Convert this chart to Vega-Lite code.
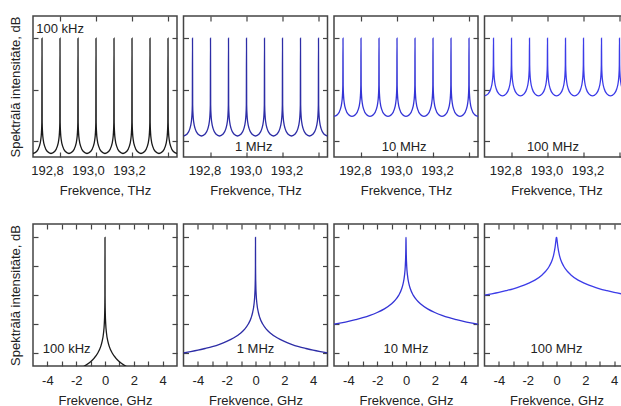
{
"$schema":"https://vega.github.io/schema/vega-lite/v6.json",
"background":"white",
"padding":{"left":8,"top":14,"right":0,"bottom":0},
"bounds":"flush",
"spacing":208,
"config":{
 "view":{"stroke":"#444","strokeWidth":1.5},
 "axis":{"domain":false,"grid":false,"tickColor":"#444","tickWidth":1.2,"tickSize":-5,"labelFont":"Liberation Sans","labelFontSize":13,"labelColor":"#222","titleFont":"Liberation Sans","titleFontSize":13,"titleFontWeight":"normal","titleColor":"#222","labelOverlap":false,"labelFlush":false},
 "text":{"font":"Liberation Sans","fontSize":13,"color":"#222"}
},
"datasets":{
"comb":[
{"f":192.65,"a":-112.1,"b":-95.1,"c":-76.1,"d":-56.1},
{"f":192.67,"a":-110.2,"b":-93.2,"c":-74.2,"d":-54.2},
{"f":192.685,"a":-105.2,"b":-88.2,"c":-69.2,"d":-49.2},
{"f":192.693,"a":-98.9,"b":-81.9,"c":-62.9,"d":-42.9},
{"f":192.697,"a":-91.6,"b":-74.6,"c":-55.6,"d":-35.6},
{"f":192.699,"a":-82,"b":-65,"c":-46,"d":-26},
{"f":192.7,"a":0,"b":0,"c":0,"d":0},
{"f":192.701,"a":-82,"b":-65,"c":-46,"d":-26},
{"f":192.703,"a":-91.6,"b":-74.6,"c":-55.6,"d":-35.6},
{"f":192.707,"a":-98.9,"b":-81.9,"c":-62.9,"d":-42.9},
{"f":192.715,"a":-105.2,"b":-88.2,"c":-69.2,"d":-49.2},
{"f":192.73,"a":-110.2,"b":-93.2,"c":-74.2,"d":-54.2},
{"f":192.75,"a":-112.1,"b":-95.1,"c":-76.1,"d":-56.1},
{"f":192.77,"a":-110.2,"b":-93.2,"c":-74.2,"d":-54.2},
{"f":192.785,"a":-105.2,"b":-88.2,"c":-69.2,"d":-49.2},
{"f":192.793,"a":-98.9,"b":-81.9,"c":-62.9,"d":-42.9},
{"f":192.797,"a":-91.6,"b":-74.6,"c":-55.6,"d":-35.6},
{"f":192.799,"a":-82,"b":-65,"c":-46,"d":-26},
{"f":192.8,"a":0,"b":0,"c":0,"d":0},
{"f":192.801,"a":-82,"b":-65,"c":-46,"d":-26},
{"f":192.803,"a":-91.6,"b":-74.6,"c":-55.6,"d":-35.6},
{"f":192.807,"a":-98.9,"b":-81.9,"c":-62.9,"d":-42.9},
{"f":192.815,"a":-105.2,"b":-88.2,"c":-69.2,"d":-49.2},
{"f":192.83,"a":-110.2,"b":-93.2,"c":-74.2,"d":-54.2},
{"f":192.85,"a":-112.1,"b":-95.1,"c":-76.1,"d":-56.1},
{"f":192.87,"a":-110.2,"b":-93.2,"c":-74.2,"d":-54.2},
{"f":192.885,"a":-105.2,"b":-88.2,"c":-69.2,"d":-49.2},
{"f":192.893,"a":-98.9,"b":-81.9,"c":-62.9,"d":-42.9},
{"f":192.897,"a":-91.6,"b":-74.6,"c":-55.6,"d":-35.6},
{"f":192.899,"a":-82,"b":-65,"c":-46,"d":-26},
{"f":192.9,"a":0,"b":0,"c":0,"d":0},
{"f":192.901,"a":-82,"b":-65,"c":-46,"d":-26},
{"f":192.903,"a":-91.6,"b":-74.6,"c":-55.6,"d":-35.6},
{"f":192.907,"a":-98.9,"b":-81.9,"c":-62.9,"d":-42.9},
{"f":192.915,"a":-105.2,"b":-88.2,"c":-69.2,"d":-49.2},
{"f":192.93,"a":-110.2,"b":-93.2,"c":-74.2,"d":-54.2},
{"f":192.95,"a":-112.1,"b":-95.1,"c":-76.1,"d":-56.1},
{"f":192.97,"a":-110.2,"b":-93.2,"c":-74.2,"d":-54.2},
{"f":192.985,"a":-105.2,"b":-88.2,"c":-69.2,"d":-49.2},
{"f":192.993,"a":-98.9,"b":-81.9,"c":-62.9,"d":-42.9},
{"f":192.997,"a":-91.6,"b":-74.6,"c":-55.6,"d":-35.6},
{"f":192.999,"a":-82,"b":-65,"c":-46,"d":-26},
{"f":193.0,"a":0,"b":0,"c":0,"d":0},
{"f":193.001,"a":-82,"b":-65,"c":-46,"d":-26},
{"f":193.003,"a":-91.6,"b":-74.6,"c":-55.6,"d":-35.6},
{"f":193.007,"a":-98.9,"b":-81.9,"c":-62.9,"d":-42.9},
{"f":193.015,"a":-105.2,"b":-88.2,"c":-69.2,"d":-49.2},
{"f":193.03,"a":-110.2,"b":-93.2,"c":-74.2,"d":-54.2},
{"f":193.05,"a":-112.1,"b":-95.1,"c":-76.1,"d":-56.1},
{"f":193.07,"a":-110.2,"b":-93.2,"c":-74.2,"d":-54.2},
{"f":193.085,"a":-105.2,"b":-88.2,"c":-69.2,"d":-49.2},
{"f":193.093,"a":-98.9,"b":-81.9,"c":-62.9,"d":-42.9},
{"f":193.097,"a":-91.6,"b":-74.6,"c":-55.6,"d":-35.6},
{"f":193.099,"a":-82,"b":-65,"c":-46,"d":-26},
{"f":193.1,"a":0,"b":0,"c":0,"d":0},
{"f":193.101,"a":-82,"b":-65,"c":-46,"d":-26},
{"f":193.103,"a":-91.6,"b":-74.6,"c":-55.6,"d":-35.6},
{"f":193.107,"a":-98.9,"b":-81.9,"c":-62.9,"d":-42.9},
{"f":193.115,"a":-105.2,"b":-88.2,"c":-69.2,"d":-49.2},
{"f":193.13,"a":-110.2,"b":-93.2,"c":-74.2,"d":-54.2},
{"f":193.15,"a":-112.1,"b":-95.1,"c":-76.1,"d":-56.1},
{"f":193.17,"a":-110.2,"b":-93.2,"c":-74.2,"d":-54.2},
{"f":193.185,"a":-105.2,"b":-88.2,"c":-69.2,"d":-49.2},
{"f":193.193,"a":-98.9,"b":-81.9,"c":-62.9,"d":-42.9},
{"f":193.197,"a":-91.6,"b":-74.6,"c":-55.6,"d":-35.6},
{"f":193.199,"a":-82,"b":-65,"c":-46,"d":-26},
{"f":193.2,"a":0,"b":0,"c":0,"d":0},
{"f":193.201,"a":-82,"b":-65,"c":-46,"d":-26},
{"f":193.203,"a":-91.6,"b":-74.6,"c":-55.6,"d":-35.6},
{"f":193.207,"a":-98.9,"b":-81.9,"c":-62.9,"d":-42.9},
{"f":193.215,"a":-105.2,"b":-88.2,"c":-69.2,"d":-49.2},
{"f":193.23,"a":-110.2,"b":-93.2,"c":-74.2,"d":-54.2},
{"f":193.25,"a":-112.1,"b":-95.1,"c":-76.1,"d":-56.1},
{"f":193.27,"a":-110.2,"b":-93.2,"c":-74.2,"d":-54.2},
{"f":193.285,"a":-105.2,"b":-88.2,"c":-69.2,"d":-49.2},
{"f":193.293,"a":-98.9,"b":-81.9,"c":-62.9,"d":-42.9},
{"f":193.297,"a":-91.6,"b":-74.6,"c":-55.6,"d":-35.6},
{"f":193.299,"a":-82,"b":-65,"c":-46,"d":-26},
{"f":193.3,"a":0,"b":0,"c":0,"d":0},
{"f":193.301,"a":-82,"b":-65,"c":-46,"d":-26},
{"f":193.303,"a":-91.6,"b":-74.6,"c":-55.6,"d":-35.6},
{"f":193.307,"a":-98.9,"b":-81.9,"c":-62.9,"d":-42.9},
{"f":193.315,"a":-105.2,"b":-88.2,"c":-69.2,"d":-49.2},
{"f":193.33,"a":-110.2,"b":-93.2,"c":-74.2,"d":-54.2},
{"f":193.35,"a":-112.1,"b":-95.1,"c":-76.1,"d":-56.1},
{"f":193.37,"a":-110.2,"b":-93.2,"c":-74.2,"d":-54.2},
{"f":193.385,"a":-105.2,"b":-88.2,"c":-69.2,"d":-49.2},
{"f":193.393,"a":-98.9,"b":-81.9,"c":-62.9,"d":-42.9},
{"f":193.397,"a":-91.6,"b":-74.6,"c":-55.6,"d":-35.6},
{"f":193.399,"a":-82,"b":-65,"c":-46,"d":-26},
{"f":193.4,"a":0,"b":0,"c":0,"d":0},
{"f":193.401,"a":-82,"b":-65,"c":-46,"d":-26},
{"f":193.403,"a":-91.6,"b":-74.6,"c":-55.6,"d":-35.6},
{"f":193.407,"a":-98.9,"b":-81.9,"c":-62.9,"d":-42.9},
{"f":193.415,"a":-105.2,"b":-88.2,"c":-69.2,"d":-49.2},
{"f":193.43,"a":-110.2,"b":-93.2,"c":-74.2,"d":-54.2},
{"f":193.45,"a":-112.1,"b":-95.1,"c":-76.1,"d":-56.1}
],
"pk":[
{"f":-5,"a":-100,"b":-80,"c":-60,"d":-40},
{"f":-4.5,"a":-99.1,"b":-79.1,"c":-59.1,"d":-39.1},
{"f":-4,"a":-98.1,"b":-78.1,"c":-58.1,"d":-38.1},
{"f":-3.5,"a":-96.9,"b":-76.9,"c":-56.9,"d":-36.9},
{"f":-3,"a":-95.6,"b":-75.6,"c":-55.6,"d":-35.6},
{"f":-2.5,"a":-94,"b":-74,"c":-54,"d":-34},
{"f":-2,"a":-92,"b":-72,"c":-52,"d":-32},
{"f":-1.5,"a":-89.5,"b":-69.5,"c":-49.5,"d":-29.6},
{"f":-1,"a":-86,"b":-66,"c":-46,"d":-26},
{"f":-0.75,"a":-83.5,"b":-63.5,"c":-43.5,"d":-23.5},
{"f":-0.5,"a":-80,"b":-60,"c":-40,"d":-20},
{"f":-0.3,"a":-75.6,"b":-55.6,"c":-35.6,"d":-15.7},
{"f":-0.2,"a":-72,"b":-52,"c":-32,"d":-12.3},
{"f":-0.1,"a":-66,"b":-46,"c":-26,"d":-7},
{"f":-0.05,"a":-60,"b":-40,"c":-20,"d":-3},
{"f":-0.02,"a":-52,"b":-32,"c":-12.3,"d":-0.6},
{"f":-0.01,"a":-46,"b":-26,"c":-7,"d":-0.2},
{"f":-0.005,"a":-40,"b":-20,"c":-3,"d":0},
{"f":0,"a":0,"b":0,"c":0,"d":0},
{"f":0.005,"a":-40,"b":-20,"c":-3,"d":0},
{"f":0.01,"a":-46,"b":-26,"c":-7,"d":-0.2},
{"f":0.02,"a":-52,"b":-32,"c":-12.3,"d":-0.6},
{"f":0.05,"a":-60,"b":-40,"c":-20,"d":-3},
{"f":0.1,"a":-66,"b":-46,"c":-26,"d":-7},
{"f":0.2,"a":-72,"b":-52,"c":-32,"d":-12.3},
{"f":0.3,"a":-75.6,"b":-55.6,"c":-35.6,"d":-15.7},
{"f":0.5,"a":-80,"b":-60,"c":-40,"d":-20},
{"f":0.75,"a":-83.5,"b":-63.5,"c":-43.5,"d":-23.5},
{"f":1,"a":-86,"b":-66,"c":-46,"d":-26},
{"f":1.5,"a":-89.5,"b":-69.5,"c":-49.5,"d":-29.6},
{"f":2,"a":-92,"b":-72,"c":-52,"d":-32},
{"f":2.5,"a":-94,"b":-74,"c":-54,"d":-34},
{"f":3,"a":-95.6,"b":-75.6,"c":-55.6,"d":-35.6},
{"f":3.5,"a":-96.9,"b":-76.9,"c":-56.9,"d":-36.9},
{"f":4,"a":-98.1,"b":-78.1,"c":-58.1,"d":-38.1},
{"f":4.5,"a":-99.1,"b":-79.1,"c":-59.1,"d":-39.1},
{"f":5,"a":-100,"b":-80,"c":-60,"d":-40}
]
},
"vconcat":[
{"bounds":"flush","spacing":6.5,"hconcat":[
 {"width":144,"height":141,"layer":[
  {"data":{"name":"comb"},"mark":{"type":"line","color":"#1a1a1a","strokeWidth":1.3,"clip":true,"interpolate":"monotone"},
   "encoding":{
    "x":{"field":"f","type":"quantitative","scale":{"domain":[192.65,193.45],"nice":false,"zero":false},"axis":{"orient":"bottom","values":[192.8,193.0,193.2,193.4],"labelExpr":"datum.value > 193.3 ? '' : replace(format(datum.value, '.1f'), '.', ',')","labelPadding":12,"labelOffset":{"condition":[{"test":"datum.value < 192.9","value":-13},{"test":"datum.value > 193.1","value":-3}],"value":-8},"title":"Frekvence, THz","titlePadding":7}},
    "y":{"field":"a","type":"quantitative","scale":{"domain":[-115.5,21.5],"nice":false,"zero":false},"axis":{"orient":"left","values":[0,-50,-100],"labels":false,"title":"Spektrālā intensitāte, dB","titlePadding":10}}}},
  {"data":{"values":[{}]},"mark":{"type":"text","align":"left","baseline":"middle"},
   "encoding":{
    "x":{"datum":192.668,"type":"quantitative","axis":{"orient":"top","values":[192.8,193.0,193.2,193.4],"labels":false,"title":null}},
    "y":{"datum":8.4,"type":"quantitative","axis":{"orient":"right","values":[0,-50,-100],"labels":false,"title":null}},
    "text":{"value":"100 kHz"}}}
 ]},
 {"width":144,"height":141,"layer":[
  {"data":{"name":"comb"},"mark":{"type":"line","color":"#2d2da6","strokeWidth":1.3,"clip":true,"interpolate":"monotone"},
   "encoding":{
    "x":{"field":"f","type":"quantitative","scale":{"domain":[192.65,193.45],"nice":false,"zero":false},"axis":{"orient":"bottom","values":[192.8,193.0,193.2,193.4],"labelExpr":"datum.value > 193.3 ? '' : replace(format(datum.value, '.1f'), '.', ',')","labelPadding":12,"labelOffset":{"condition":[{"test":"datum.value < 192.9","value":-6},{"test":"datum.value > 193.1","value":4}],"value":-1},"title":"Frekvence, THz","titlePadding":7}},
    "y":{"field":"b","type":"quantitative","scale":{"domain":[-115.5,21.5],"nice":false,"zero":false},"axis":{"orient":"left","values":[0,-50,-100],"labels":false,"title":null}}}},
  {"data":{"values":[{}]},"mark":{"type":"text","align":"center","baseline":"middle"},
   "encoding":{
    "x":{"datum":193.04,"type":"quantitative","axis":{"orient":"top","values":[192.8,193.0,193.2,193.4],"labels":false,"title":null}},
    "y":{"datum":-105.5,"type":"quantitative","axis":{"orient":"right","values":[0,-50,-100],"labels":false,"title":null}},
    "text":{"value":"1 MHz"}}}
 ]},
 {"width":144,"height":141,"layer":[
  {"data":{"name":"comb"},"mark":{"type":"line","color":"#3434d6","strokeWidth":1.3,"clip":true,"interpolate":"monotone"},
   "encoding":{
    "x":{"field":"f","type":"quantitative","scale":{"domain":[192.65,193.45],"nice":false,"zero":false},"axis":{"orient":"bottom","values":[192.8,193.0,193.2,193.4],"labelExpr":"datum.value > 193.3 ? '' : replace(format(datum.value, '.1f'), '.', ',')","labelPadding":12,"labelOffset":{"condition":[{"test":"datum.value < 192.9","value":-6},{"test":"datum.value > 193.1","value":4}],"value":-1},"title":"Frekvence, THz","titlePadding":7}},
    "y":{"field":"c","type":"quantitative","scale":{"domain":[-115.5,21.5],"nice":false,"zero":false},"axis":{"orient":"left","values":[0,-50,-100],"labels":false,"title":null}}}},
  {"data":{"values":[{}]},"mark":{"type":"text","align":"center","baseline":"middle"},
   "encoding":{
    "x":{"datum":193.04,"type":"quantitative","axis":{"orient":"top","values":[192.8,193.0,193.2,193.4],"labels":false,"title":null}},
    "y":{"datum":-105.5,"type":"quantitative","axis":{"orient":"right","values":[0,-50,-100],"labels":false,"title":null}},
    "text":{"value":"10 MHz"}}}
 ]},
 {"width":144,"height":141,"layer":[
  {"data":{"name":"comb"},"mark":{"type":"line","color":"#3c3ce8","strokeWidth":1.3,"clip":true,"interpolate":"monotone"},
   "encoding":{
    "x":{"field":"f","type":"quantitative","scale":{"domain":[192.65,193.45],"nice":false,"zero":false},"axis":{"orient":"bottom","values":[192.8,193.0,193.2,193.4],"labelExpr":"datum.value > 193.3 ? '' : replace(format(datum.value, '.1f'), '.', ',')","labelPadding":12,"labelOffset":{"condition":[{"test":"datum.value < 192.9","value":-6},{"test":"datum.value > 193.1","value":4}],"value":-1},"title":"Frekvence, THz","titlePadding":7}},
    "y":{"field":"d","type":"quantitative","scale":{"domain":[-115.5,21.5],"nice":false,"zero":false},"axis":{"orient":"left","values":[0,-50,-100],"labels":false,"title":null}}}},
  {"data":{"values":[{}]},"mark":{"type":"text","align":"center","baseline":"middle"},
   "encoding":{
    "x":{"datum":193.03,"type":"quantitative","axis":{"orient":"top","values":[192.8,193.0,193.2,193.4],"labels":false,"title":null}},
    "y":{"datum":-105.5,"type":"quantitative","axis":{"orient":"right","values":[0,-50,-100],"labels":false,"title":null}},
    "text":{"value":"100 MHz"}}}
 ]}
]},
{"bounds":"flush","spacing":6.5,"hconcat":[
 {"width":144,"height":142,"layer":[
  {"data":{"name":"pk"},"mark":{"type":"line","color":"#1a1a1a","strokeWidth":1.3,"clip":true,"interpolate":"monotone"},
   "encoding":{
    "x":{"field":"f","type":"quantitative","scale":{"domain":[-5,5],"nice":false},"axis":{"orient":"bottom","values":[-4,-3,-2,-1,0,1,2,3,4],"labelExpr":"datum.value % 2 == 0 ? '' + datum.value : ''","labelPadding":13,"title":"Frekvence, GHz","titlePadding":7}},
    "y":{"field":"a","type":"quantitative","scale":{"domain":[-89,9.2],"nice":false},"axis":{"orient":"left","values":[0,-20,-40,-60,-80],"labels":false,"title":"Spektrālā intensitāte, dB","titlePadding":10}}}},
  {"data":{"values":[{}]},"mark":{"type":"text","align":"center","baseline":"middle"},
   "encoding":{
    "x":{"datum":-2.66,"type":"quantitative","axis":{"orient":"top","values":[-4,-3,-2,-1,0,1,2,3,4],"labels":false,"title":null}},
    "y":{"datum":-77.2,"type":"quantitative","axis":{"orient":"right","values":[0,-20,-40,-60,-80],"labels":false,"title":null}},
    "text":{"value":"100 kHz"}}}
 ]},
 {"width":144,"height":142,"layer":[
  {"data":{"name":"pk"},"mark":{"type":"line","color":"#2d2da6","strokeWidth":1.3,"clip":true,"interpolate":"monotone"},
   "encoding":{
    "x":{"field":"f","type":"quantitative","scale":{"domain":[-5,5],"nice":false},"axis":{"orient":"bottom","values":[-4,-3,-2,-1,0,1,2,3,4],"labelExpr":"datum.value % 2 == 0 ? '' + datum.value : ''","labelPadding":13,"title":"Frekvence, GHz","titlePadding":7}},
    "y":{"field":"b","type":"quantitative","scale":{"domain":[-89,9.2],"nice":false},"axis":{"orient":"left","values":[0,-20,-40,-60,-80],"labels":false,"title":null}}}},
  {"data":{"values":[{}]},"mark":{"type":"text","align":"center","baseline":"middle"},
   "encoding":{
    "x":{"datum":0,"type":"quantitative","axis":{"orient":"top","values":[-4,-3,-2,-1,0,1,2,3,4],"labels":false,"title":null}},
    "y":{"datum":-77.2,"type":"quantitative","axis":{"orient":"right","values":[0,-20,-40,-60,-80],"labels":false,"title":null}},
    "text":{"value":"1 MHz"}}}
 ]},
 {"width":144,"height":142,"layer":[
  {"data":{"name":"pk"},"mark":{"type":"line","color":"#3434d6","strokeWidth":1.3,"clip":true,"interpolate":"monotone"},
   "encoding":{
    "x":{"field":"f","type":"quantitative","scale":{"domain":[-5,5],"nice":false},"axis":{"orient":"bottom","values":[-4,-3,-2,-1,0,1,2,3,4],"labelExpr":"datum.value % 2 == 0 ? '' + datum.value : ''","labelPadding":13,"title":"Frekvence, GHz","titlePadding":7}},
    "y":{"field":"c","type":"quantitative","scale":{"domain":[-89,9.2],"nice":false},"axis":{"orient":"left","values":[0,-20,-40,-60,-80],"labels":false,"title":null}}}},
  {"data":{"values":[{}]},"mark":{"type":"text","align":"center","baseline":"middle"},
   "encoding":{
    "x":{"datum":0,"type":"quantitative","axis":{"orient":"top","values":[-4,-3,-2,-1,0,1,2,3,4],"labels":false,"title":null}},
    "y":{"datum":-77.2,"type":"quantitative","axis":{"orient":"right","values":[0,-20,-40,-60,-80],"labels":false,"title":null}},
    "text":{"value":"10 MHz"}}}
 ]},
 {"width":144,"height":142,"layer":[
  {"data":{"name":"pk"},"mark":{"type":"line","color":"#3c3ce8","strokeWidth":1.3,"clip":true,"interpolate":"monotone"},
   "encoding":{
    "x":{"field":"f","type":"quantitative","scale":{"domain":[-5,5],"nice":false},"axis":{"orient":"bottom","values":[-4,-3,-2,-1,0,1,2,3,4],"labelExpr":"datum.value % 2 == 0 ? '' + datum.value : ''","labelPadding":13,"title":"Frekvence, GHz","titlePadding":7}},
    "y":{"field":"d","type":"quantitative","scale":{"domain":[-89,9.2],"nice":false},"axis":{"orient":"left","values":[0,-20,-40,-60,-80],"labels":false,"title":null}}}},
  {"data":{"values":[{}]},"mark":{"type":"text","align":"center","baseline":"middle"},
   "encoding":{
    "x":{"datum":0,"type":"quantitative","axis":{"orient":"top","values":[-4,-3,-2,-1,0,1,2,3,4],"labels":false,"title":null}},
    "y":{"datum":-77.2,"type":"quantitative","axis":{"orient":"right","values":[0,-20,-40,-60,-80],"labels":false,"title":null}},
    "text":{"value":"100 MHz"}}}
 ]}
]}
]
}
